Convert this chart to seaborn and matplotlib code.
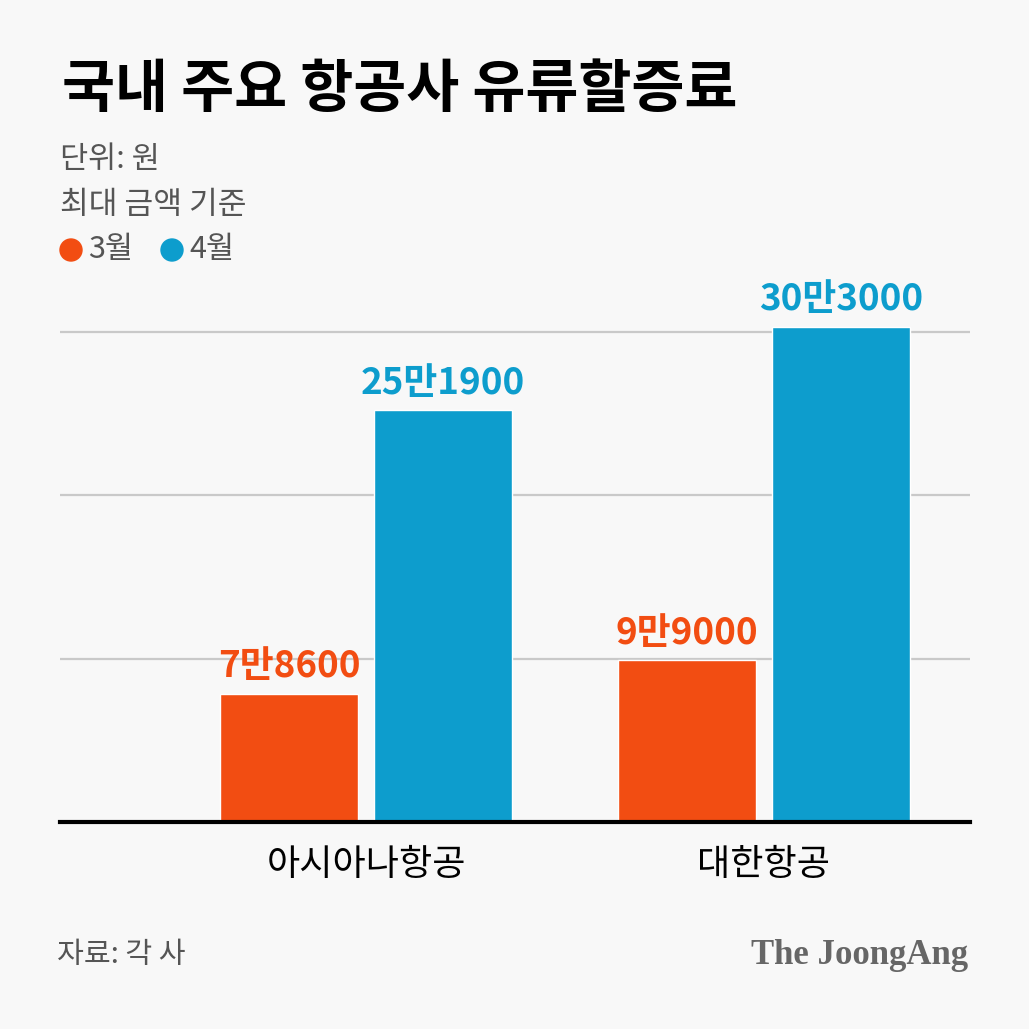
import pandas as pd
import numpy as np
import matplotlib
matplotlib.use('Agg')
import matplotlib.pyplot as plt
import seaborn as sns
from matplotlib.patches import Circle

airlines = ['아시아나항공', '대한항공']
months = ['3월', '4월']
march = [78600, 99000]
april = [251900, 303000]
colors = ['#f24d12', '#0d9dcd']

df = pd.DataFrame({
    'airline': airlines * 2,
    'month': [months[0]] * 2 + [months[1]] * 2,
    'value': march + april,
})

def won(v):
    return f"{v // 10000}만{v % 10000}"

sns.set_theme(style='white')
plt.rcParams['font.family'] = ['Noto Sans CJK KR', 'DejaVu Sans']
bg = '#f8f8f8'

fig = plt.figure(figsize=(10.29, 10.29), dpi=100, facecolor=bg)
ax = fig.add_axes([60 / 1029, 207 / 1029, 910 / 1029, 522 / 1029])
ax.set_facecolor(bg)

sns.barplot(data=df, x='airline', y='value', hue='month', palette=colors,
            width=0.774, gap=0.104, legend=False, ax=ax, saturation=1)

ax.set_xlim(-0.769, 1.518)
ax.set_ylim(0, 319300)
ax.set_yticks([100000, 200000, 300000])
ax.yaxis.grid(True, color='#c9c9c9', linewidth=1.6)
ax.set_axisbelow(True)
for s in ['left', 'right', 'top']:
    ax.spines[s].set_visible(False)
ax.spines['bottom'].set_color('black')
ax.spines['bottom'].set_linewidth(3)
ax.tick_params(axis='y', left=False, labelleft=False)
ax.tick_params(axis='x', bottom=False, pad=12, labelsize=26, labelcolor='black')
for t in ax.get_xticklabels():
    t.set_fontweight('medium')
ax.set_xlabel('')
ax.set_ylabel('')

for cont, vals, c in zip(ax.containers, [march, april], colors):
    ax.bar_label(cont, labels=[won(v) for v in vals], padding=6, color=c,
                 fontsize=26.5, fontweight='heavy', clip_on=False)

fig.text(62 / 1029, 1 - 90 / 1029, '국내 주요 항공사 유류할증료', fontsize=41.5,
         fontweight='heavy', color='black', va='center', ha='left')
fig.text(60 / 1029, 1 - 160 / 1029, '단위: 원', fontsize=22, color='#555555',
         va='center', ha='left')
fig.text(60 / 1029, 1 - 205 / 1029, '최대 금액 기준', fontsize=22.5, color='#555555',
         va='center', ha='left')

for cx, c, m in zip([71, 172], colors, months):
    fig.patches.append(Circle((cx / 1029, 1 - 250 / 1029), 11 / 1029, color=c,
                              transform=fig.transFigure))
    fig.text((cx + 17) / 1029, 1 - 250 / 1029, m, fontsize=22, color='#555555',
             va='center', ha='left')

fig.text(57 / 1029, 1 - 955 / 1029, '자료: 각 사', fontsize=21, color='#555555',
         va='center', ha='left')
fig.text(968 / 1029, 1 - 955 / 1029, 'The JoongAng', fontsize=25, color='#666666',
         fontweight='bold', family='Liberation Serif', va='center', ha='right')

fig.savefig('out.png', dpi=100, facecolor=bg)
